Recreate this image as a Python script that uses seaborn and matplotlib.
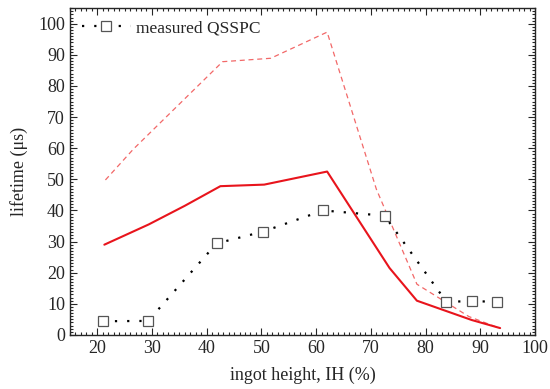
import matplotlib
matplotlib.use("Agg")
import matplotlib.pyplot as plt
import seaborn as sns
import pandas as pd
from matplotlib.ticker import MultipleLocator

sns.set_style("ticks")
plt.rcParams["font.family"] = ["Liberation Serif", "DejaVu Serif"]

# ── Data ──────────────────────────────────────────────────────────────────────
qsspc_ih = [21, 29.3, 41.8, 50.3, 61.3, 72.5, 83.8, 88.4, 93.0]
qsspc_tau = [4.4, 4.5, 29.4, 33.2, 40.0, 38.3, 10.6, 10.9, 10.6]

solid_ih = [21.3, 29.4, 36.0, 42.5, 50.5, 62.0, 73.4, 78.4, 88.4, 93.6]
solid_tau = [29.0, 35.5, 41.5, 47.8, 48.3, 52.5, 21.5, 11.0, 4.8, 2.2]

dashed_ih = [21.5, 26.6, 42.9, 51.7, 62.0, 71.0, 78.4, 87.9, 93.0]
dashed_tau = [49.8, 59.7, 87.8, 88.9, 97.3, 46.8, 16.3, 5.9, 2.5]

qsspc = pd.DataFrame({"ih": qsspc_ih, "tau": qsspc_tau})
solid = pd.DataFrame({"ih": solid_ih, "tau": solid_tau})
dashed = pd.DataFrame({"ih": dashed_ih, "tau": dashed_tau})

fig = plt.figure(figsize=(5.5, 3.89), dpi=100)
ax = fig.add_axes([0.127, 0.139, 0.846, 0.840])

sns.lineplot(data=dashed, x="ih", y="tau", ax=ax, color="#f26868",
             linestyle=(0, (4, 3)), linewidth=0.9, sort=False)
sns.lineplot(data=solid, x="ih", y="tau", ax=ax, color="#e8141c",
             linewidth=1.5, sort=False)
sns.lineplot(data=qsspc, x="ih", y="tau", ax=ax, color="black",
             linestyle=(0, (1, 4.5)), linewidth=1.6, sort=False,
             marker="s", markersize=7, markerfacecolor="white",
             markeredgecolor="#555555", markeredgewidth=0.9,
             label="measured QSSPC")

ax.set_xlim(15, 100)
ax.set_ylim(0, 105)
ax.xaxis.set_major_locator(MultipleLocator(10))
ax.xaxis.set_minor_locator(MultipleLocator(1))
ax.yaxis.set_major_locator(MultipleLocator(10))
ax.yaxis.set_minor_locator(MultipleLocator(1))
ax.tick_params(which="both", direction="in", top=True, right=True,
               labelsize=13, width=0.8)
ax.tick_params(which="major", length=5)
ax.tick_params(which="minor", length=2.5)
for s in ax.spines.values():
    s.set_linewidth(1.0)

ax.set_xlabel("ingot height, IH (%)", fontsize=13, labelpad=7)
ax.set_ylabel("lifetime (μs)", fontsize=13, labelpad=7)

leg = ax.legend(loc="upper left", frameon=False, fontsize=12.5,
                handlelength=2.8, borderaxespad=0.3, handletextpad=0.3)

fig.savefig("out.png", dpi=100)
